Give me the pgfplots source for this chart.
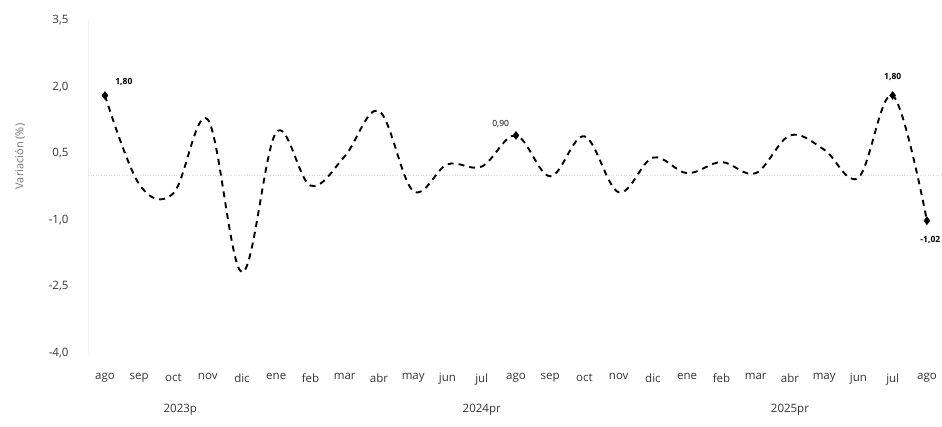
\documentclass[border=0pt]{standalone}
\usepackage{pgfplots}
\pgfplotsset{compat=1.18}
\usepackage{fontspec}
\setmainfont{Open Sans}
\begin{document}
\begin{tikzpicture}
\useasboundingbox (-88pt,-73pt) rectangle (854pt,353pt);
\begin{axis}[
    at={(0,0)}, anchor=south west,
    width=854pt, height=333pt, scale only axis,
    xmin=-0.496, xmax=24.44,
    ymin=-4, ymax=3.5,
    axis lines*=left,
    x axis line style={draw=none},
    y axis line style={black!6},
    major tick length=0pt,
    xtick={0,...,24},
    xticklabels={ago,sep,oct,nov,dic,ene,feb,mar,abr,may,jun,jul,ago,sep,oct,nov,dic,ene,feb,mar,abr,may,jun,jul,ago},
    ytick={-4,-2.5,-1,0.5,2,3.5},
    yticklabels={{-4,0},{-2,5},{-1,0},{0,5},{2,0},{3,5}},
    tick label style={font=\fontsize{11.5}{13}\selectfont, text=black!80},
    xticklabel style={yshift=-17pt},
    yticklabel style={xshift=-16pt},
    clip=false,
]
% zero line
\addplot[black!15, dotted, line width=0.6pt] coordinates {(-0.496,0) (24.44,0)};
% monthly variation
\addplot[black, line width=1.9pt, dash pattern=on 6pt off 5pt, smooth, tension=0.6] coordinates {
(0,1.80) (1,-0.20) (2,-0.40) (3,1.26) (4,-2.18) (5,0.97) (6,-0.23) (7,0.43)
(8,1.45) (9,-0.35) (10,0.25) (11,0.20) (12,0.90) (13,-0.02) (14,0.88) (15,-0.38)
(16,0.40) (17,0.05) (18,0.30) (19,0.05) (20,0.90) (21,0.58) (22,-0.05) (23,1.80) (24,-1.02)
};
\addplot[only marks, mark=diamond*, mark size=4pt, black] coordinates {(0,1.80) (12,0.90) (23,1.80) (24,-1.02)};
\node[font=\fontsize{8.5}{10}\selectfont\bfseries, anchor=south west] at (axis cs:0.2,1.95) {1,80};
\node[font=\fontsize{8.5}{10}\selectfont, anchor=south east] at (axis cs:11.9,1.0) {0,90};
\node[font=\fontsize{8.5}{10}\selectfont\bfseries, anchor=south] at (axis cs:23,2.05) {1,80};
\node[font=\fontsize{8.5}{10}\selectfont\bfseries, anchor=north] at (axis cs:24.1,-1.3) {-1,02};
% year labels
\node[font=\fontsize{11.5}{13}\selectfont, text=black!80] at ([yshift=-57pt]axis cs:2.2,-4) {2023p};
\node[font=\fontsize{11.5}{13}\selectfont, text=black!80] at ([yshift=-57pt]axis cs:11,-4) {2024pr};
\node[font=\fontsize{11.5}{13}\selectfont, text=black!80] at ([yshift=-57pt]axis cs:20,-4) {2025pr};
% y label
\node[rotate=90, font=\fontsize{11}{13}\selectfont, text=black!55] at ([xshift=-68pt]axis description cs:0,0.59) {Variación (\%)};
\end{axis}
\end{tikzpicture}
\end{document}
